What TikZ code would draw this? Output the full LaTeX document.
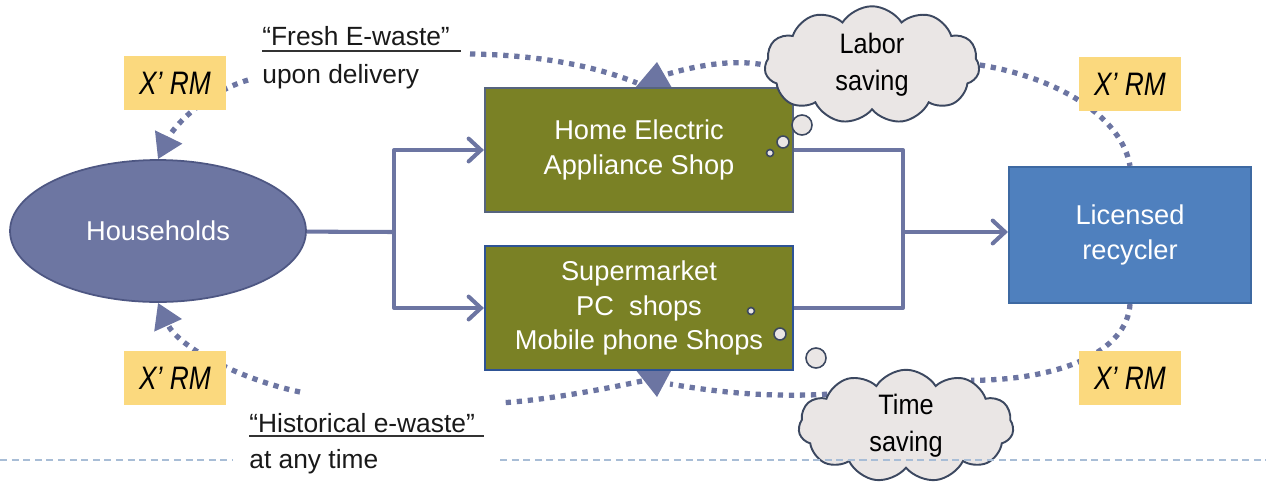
\documentclass[tikz,border=0pt]{standalone}
\usepackage{fontspec}
\setmainfont{Liberation Sans}
\newfontfamily\xrmfont{Liberation Sans}[FakeStretch=0.81]
\newfontfamily\cloudfont{Liberation Sans}[FakeStretch=0.9]
\usetikzlibrary{shapes.symbols,shapes.geometric,arrows.meta,backgrounds}

\definecolor{slate}{HTML}{6C75A2}
\definecolor{hhfill}{HTML}{6D76A2}
\definecolor{hhdraw}{HTML}{4E5783}
\definecolor{olive}{HTML}{7A8125}
\definecolor{shopgray}{HTML}{56647E}
\definecolor{shopblue}{HTML}{2E5395}
\definecolor{recfill}{HTML}{4F80BE}
\definecolor{recdraw}{HTML}{3D69A2}
\definecolor{gold}{HTML}{FBD97E}
\definecolor{cloudfill}{HTML}{EAE6E5}
\definecolor{clouddraw}{HTML}{3C4860}
\definecolor{sepline}{HTML}{A8BDD6}

\tikzset{
  hh/.style={ellipse, minimum width=5.92cm, minimum height=2.84cm, inner sep=0pt,
    fill=hhfill, draw=hhdraw, line width=1pt, text=white,
    font=\fontsize{15.5}{20}\selectfont},
  shop/.style={rectangle, minimum width=6.16cm, minimum height=2.48cm, inner sep=0pt,
    fill=olive, line width=1.3pt, text=white, align=center,
    font=\fontsize{15.5}{19.6}\selectfont},
  recbox/.style={rectangle, minimum width=4.84cm, minimum height=2.72cm, inner sep=0pt,
    fill=recfill, draw=recdraw, line width=1.2pt, text=white, align=center,
    font=\fontsize{15.5}{19.6}\selectfont},
  think/.style={cloud, cloud puffs=11, cloud puff arc=115, cloud ignores aspect,
    minimum width=4.3cm, minimum height=2.25cm, inner sep=0pt,
    fill=cloudfill, draw=clouddraw, line width=1.1pt, align=center,
    font=\cloudfont\fontsize{16}{21}\selectfont},
  bubble/.style={fill=cloudfill, draw=clouddraw, line width=0.9pt},
  xrm/.style={rectangle, minimum width=2.04cm, minimum height=1.07cm, inner sep=0pt,
    fill=gold, font=\xrmfont\itshape\fontsize{18.5}{20}\selectfont},
  note/.style={inner sep=0pt, font=\fontsize{15}{18}\selectfont, text=black!90},
  ulrule/.style={line width=1pt, black!80},
  flow/.style={draw=slate, line width=2.3pt, line join=round},
  flowtip/.style={-{Straight Barb[length=7pt,width=13pt,line cap=round]}},
  dots/.style={draw=slate, line width=3pt, dash pattern=on 3pt off 3.3pt},
  dottip/.style={-{Triangle[length=14pt,width=16.5pt]}},
  marker/.style={fill=slate},
  sep/.style={draw=sepline, line width=1pt, dash pattern=on 4pt off 2.6pt}
}

\begin{document}
\begin{tikzpicture}[x=0.02cm, y=-0.02cm]
\useasboundingbox (0,0) rectangle (1266,484);

% actors
\node[hh] (hh) at (158,231) {Households};
\node[shop, draw=shopgray] (shop1) at (639,150) {Home Electric\\Appliance Shop};
\node[shop, draw=shopblue] (shop2) at (639,308) {Supermarket\\PC\ \ shops\\Mobile phone Shops};
\node[recbox] (rec) at (1130,235) {Licensed\\recycler};

% flow of the collected appliances
\coordinate (jl) at (394,232);
\coordinate (jr) at (903,232);
\draw[flow] (hh) -- (jl);
\draw[flow, flowtip] (jl) |- (shop1);
\draw[flow, flowtip] (jl) |- (shop2);
\draw[flow] (shop1) -| (jr);
\draw[flow] (shop2) -| (jr);
\draw[flow, flowtip] (jr) -- (jr -| rec.west);

% thought clouds
\node[think, minimum height=2.35cm] (c1) at (872,65) {Labor\\saving};
\node[think] (c2) at (906,426) {Time\\saving};
\draw[bubble] (802,125) circle (5.7pt);
\draw[bubble] (783,142) circle (3.4pt);
\draw[bubble] (770,153) circle (2pt);
\draw[bubble] (816,358) circle (5.7pt);
\draw[bubble] (780,334) circle (3.4pt);
\draw[bubble] (751,311) circle (2pt);

% notes
\node[note, anchor=base west] (fresh) at (262,45) {“Fresh E-waste”};
\node[note, anchor=base west] (deliv) at (262,83) {upon delivery};
\node[note, anchor=base west] (hist) at (249,432) {“Historical e-waste”};
\node[note, anchor=base west] (anytime) at (249,468) {at any time};
\draw[ulrule] ([yshift=-3.4pt]fresh.base west) -- ([yshift=-3.4pt,xshift=6pt]fresh.base east);
\draw[ulrule] ([yshift=-2.2pt]hist.base west) -- ([yshift=-2.2pt,xshift=5pt]hist.base east);

% recycling fee labels
\node[xrm] (x1) at (175,83) {X’ RM};
\node[xrm] (x2) at (175,378) {X’ RM};
\node[xrm] (x3) at (1130,84) {X’ RM};
\node[xrm] (x4) at (1130,378) {X’ RM};

% loop of the fee, drawn beneath everything else
\begin{scope}[on background layer]
  \coordinate (tl) at (248,80);
  \coordinate (tm) at (470,54);
  \coordinate (bl) at (300,392);
  \coordinate (bm) at (500,403);
  \draw[dots, dottip] (tl) .. controls (205,93) and (174,126) .. (hh.north);
  \draw[dots] (tm) .. controls (545,55) and (600,68) .. (637,83);
  \fill[marker] (635,88) -- (657,62) -- (672,88) -- cycle;
  \draw[dots] (668,74) .. controls (705,63) and (740,60) .. (c1.west);
  \draw[dots] (c1.east) .. controls (1060,78) and (1122,118) .. (rec.north);
  \draw[dots] (rec.south) .. controls (1127,352) and (1060,380) .. (c2.35);
  \draw[dots] (c2.158) .. controls (760,398) and (705,390) .. (670,384);
  \fill[marker] (635,369) -- (657,397) -- (672,369) -- cycle;
  \draw[dots] (642,381) .. controls (600,390) and (545,400) .. (bm);
  \draw[dots, dottip] (bl) .. controls (235,378) and (177,345) .. (hh.south);
\end{scope}

% page separator
\coordinate (s0) at (0,460);
\coordinate (s1) at (232,460);
\coordinate (s2) at (500,460);
\coordinate (s3) at (1266,460);
\draw[sep] (s0) -- (s1);
\draw[sep] (s2) -- (s3);
\end{tikzpicture}
\end{document}
